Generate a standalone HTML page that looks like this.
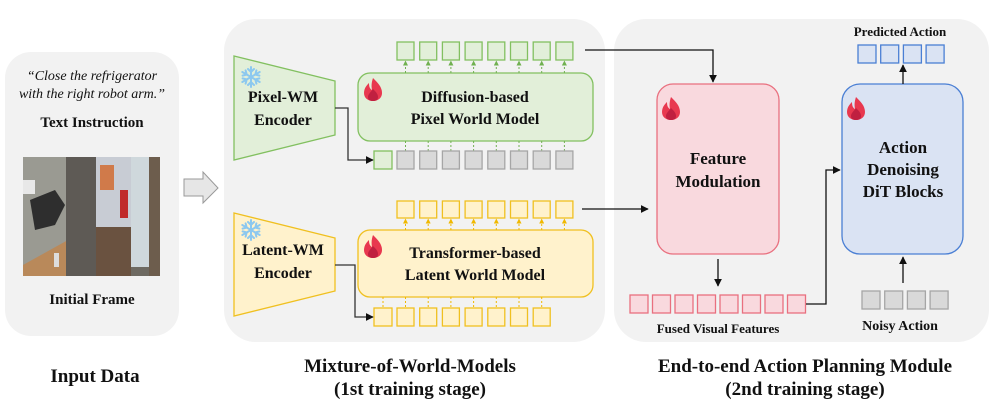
<!DOCTYPE html>
<html><head><meta charset="utf-8"><style>
html,body{margin:0;padding:0;background:#fff;}
svg{display:block;}
text{font-family:"Liberation Serif",serif;font-weight:bold;fill:#111;}
</style></head><body>
<svg width="997" height="412" viewBox="0 0 997 412" xmlns="http://www.w3.org/2000/svg">
<defs>
<marker id="ah" viewBox="0 0 10 10" refX="9" refY="5" markerWidth="6" markerHeight="6" orient="auto"><path d="M0,0 L10,5 L0,10 z" fill="#111"/></marker>
<marker id="ag" viewBox="0 0 10 10" refX="9" refY="5" markerWidth="5" markerHeight="5" orient="auto"><path d="M0,0 L10,5 L0,10 z" fill="#70b050"/></marker>
<marker id="ay" viewBox="0 0 10 10" refX="9" refY="5" markerWidth="5" markerHeight="5" orient="auto"><path d="M0,0 L10,5 L0,10 z" fill="#f0b800"/></marker>
<g id="snow" stroke="#8cc8ef" stroke-width="2" stroke-linecap="round" fill="none">
<line x1="0" y1="-10" x2="0" y2="10"/><line x1="-8.7" y1="-5" x2="8.7" y2="5"/><line x1="-8.7" y1="5" x2="8.7" y2="-5"/>
<path d="M-3,-8 L0,-5 L3,-8 M-3,8 L0,5 L3,8"/>
<path d="M-8.4,-1.4 L-4.3,-2.5 L-5.4,-6.6 M8.4,1.4 L4.3,2.5 L5.4,6.6"/>
<path d="M-8.4,1.4 L-4.3,2.5 L-5.4,6.6 M8.4,-1.4 L4.3,-2.5 L5.4,-6.6"/>
</g>
<g id="fire">
<path d="M0,-11 C5,-6 9,-2 9,4 C9,9 5,12 0,12 C-5,12 -9,9 -9,4 C-9,-1 -6,-4 -4,-6 C-4,-2 -3,0 -1,1 C-2,-4 -1,-8 0,-11 z" fill="#e8384f"/>
<path d="M0,0 C3,3 5,5 5,8 C5,11 3,12 0,12 C-3,12 -5,11 -5,8 C-5,5 -2,3 0,0 z" fill="#c02040"/>
</g>
</defs>

<!-- panels -->
<rect x="5" y="52" width="174" height="284" rx="26" fill="#f2f2f2"/>
<rect x="224" y="19" width="381" height="323" rx="32" fill="#f2f2f2"/>
<rect x="614" y="19" width="375" height="323" rx="32" fill="#f2f2f2"/>

<!-- left panel -->
<text x="92" y="80" font-size="14" text-anchor="middle" style="font-weight:normal;font-style:italic">“Close the refrigerator</text>
<text x="92" y="98" font-size="14" text-anchor="middle" style="font-weight:normal;font-style:italic">with the right robot arm.”</text>
<text x="92" y="127" font-size="15" text-anchor="middle">Text Instruction</text>
<rect x="23" y="157" width="137" height="119" fill="#6e6a62"/>
<rect x="23" y="157" width="45" height="119" fill="#9a9a92"/>
<polygon points="23,265 23,276 68,276 68,240" fill="#b9895a"/>
<rect x="66" y="157" width="30" height="119" fill="#5e5a55"/>
<rect x="96" y="157" width="35" height="70" fill="#c8ccd4"/>
<rect x="96" y="227" width="35" height="49" fill="#6a5240"/>
<rect x="131" y="157" width="18" height="110" fill="#cfd8dc"/>
<rect x="149" y="157" width="11" height="119" fill="#6d5d4d"/>
<rect x="120" y="190" width="8" height="28" fill="#c02a2a"/>
<rect x="100" y="165" width="14" height="25" fill="#d07a4a"/>
<path d="M30,200 L55,190 L65,205 L55,225 L35,230 z" fill="#2e2e2e"/>
<rect x="23" y="180" width="12" height="14" fill="#e8e8e8"/>
<rect x="54" y="253" width="5" height="14" fill="#ddd"/>
<text x="92" y="304" font-size="15" text-anchor="middle">Initial Frame</text>

<!-- big arrow -->
<polygon points="184,179 203,179 203,172 218,188 203,203 203,196 184,196" fill="#e6e6e6" stroke="#999" stroke-width="1"/>

<!-- pixel encoder -->
<polygon points="234,56 335,81 335,135 234,160" fill="#e2efd9" stroke="#82c060" stroke-width="1.3"/>
<use href="#snow" x="251" y="77"/>
<text x="283" y="102" font-size="16" text-anchor="middle">Pixel-WM</text>
<text x="283" y="125" font-size="16" text-anchor="middle">Encoder</text>
<rect x="358" y="73" width="235" height="68" rx="12" fill="#e2efd9" stroke="#82c060" stroke-width="1.3"/>
<use href="#fire" x="373" y="89"/>
<text x="475" y="102" font-size="16" text-anchor="middle">Diffusion-based</text>
<text x="475" y="124" font-size="16" text-anchor="middle">Pixel World Model</text>
<g fill="#e2efd9" stroke="#82c060" stroke-width="1.3">
<rect x="397" y="42" width="17" height="18"/><rect x="419.7" y="42" width="17" height="18"/><rect x="442.4" y="42" width="17" height="18"/><rect x="465.1" y="42" width="17" height="18"/><rect x="487.8" y="42" width="17" height="18"/><rect x="510.5" y="42" width="17" height="18"/><rect x="533.2" y="42" width="17" height="18"/><rect x="555.9" y="42" width="17" height="18"/>
<rect x="374" y="151" width="18" height="18"/>
</g>
<g stroke="#70b050" stroke-width="1" stroke-dasharray="2,2" marker-end="url(#ag)">
<line x1="405.5" y1="73" x2="405.5" y2="61"/><line x1="428.2" y1="73" x2="428.2" y2="61"/><line x1="450.9" y1="73" x2="450.9" y2="61"/><line x1="473.6" y1="73" x2="473.6" y2="61"/><line x1="496.3" y1="73" x2="496.3" y2="61"/><line x1="519" y1="73" x2="519" y2="61"/><line x1="541.7" y1="73" x2="541.7" y2="61"/><line x1="564.4" y1="73" x2="564.4" y2="61"/>
</g>
<g stroke="#70b050" stroke-width="1" stroke-dasharray="2,2">
<line x1="405.5" y1="141" x2="405.5" y2="151"/><line x1="428.2" y1="141" x2="428.2" y2="151"/><line x1="450.9" y1="141" x2="450.9" y2="151"/><line x1="473.6" y1="141" x2="473.6" y2="151"/><line x1="496.3" y1="141" x2="496.3" y2="151"/><line x1="519" y1="141" x2="519" y2="151"/><line x1="541.7" y1="141" x2="541.7" y2="151"/><line x1="564.4" y1="141" x2="564.4" y2="151"/>
</g>
<g fill="#d9d9d9" stroke="#a6a6a6" stroke-width="1.3">
<rect x="397" y="151" width="17" height="18"/><rect x="419.7" y="151" width="17" height="18"/><rect x="442.4" y="151" width="17" height="18"/><rect x="465.1" y="151" width="17" height="18"/><rect x="487.8" y="151" width="17" height="18"/><rect x="510.5" y="151" width="17" height="18"/><rect x="533.2" y="151" width="17" height="18"/><rect x="555.9" y="151" width="17" height="18"/>
</g>
<path d="M335,108 L348,108 L348,160 L373,160" fill="none" stroke="#333" stroke-width="1.3" marker-end="url(#ah)"/>

<!-- latent encoder -->
<polygon points="234,213 335,238 335,291 234,316" fill="#fff2cc" stroke="#f0c020" stroke-width="1.3"/>
<use href="#snow" x="251" y="230"/>
<text x="283" y="255" font-size="16" text-anchor="middle">Latent-WM</text>
<text x="283" y="278" font-size="16" text-anchor="middle">Encoder</text>
<rect x="358" y="230" width="235" height="67" rx="12" fill="#fff2cc" stroke="#f0c020" stroke-width="1.3"/>
<use href="#fire" x="373" y="246"/>
<text x="475" y="258" font-size="16" text-anchor="middle">Transformer-based</text>
<text x="475" y="280" font-size="16" text-anchor="middle">Latent World Model</text>
<g fill="#fff2cc" stroke="#f0c020" stroke-width="1.3">
<rect x="397" y="201" width="17" height="17"/><rect x="419.7" y="201" width="17" height="17"/><rect x="442.4" y="201" width="17" height="17"/><rect x="465.1" y="201" width="17" height="17"/><rect x="487.8" y="201" width="17" height="17"/><rect x="510.5" y="201" width="17" height="17"/><rect x="533.2" y="201" width="17" height="17"/><rect x="555.9" y="201" width="17" height="17"/>
<rect x="374" y="308" width="18" height="18"/><rect x="397" y="308" width="17" height="18"/><rect x="419.7" y="308" width="17" height="18"/><rect x="442.4" y="308" width="17" height="18"/><rect x="465.1" y="308" width="17" height="18"/><rect x="487.8" y="308" width="17" height="18"/><rect x="510.5" y="308" width="17" height="18"/><rect x="533.2" y="308" width="17" height="18"/>
</g>
<g stroke="#f0b800" stroke-width="1" stroke-dasharray="2,2" marker-end="url(#ay)">
<line x1="405.5" y1="230" x2="405.5" y2="219"/><line x1="428.2" y1="230" x2="428.2" y2="219"/><line x1="450.9" y1="230" x2="450.9" y2="219"/><line x1="473.6" y1="230" x2="473.6" y2="219"/><line x1="496.3" y1="230" x2="496.3" y2="219"/><line x1="519" y1="230" x2="519" y2="219"/><line x1="541.7" y1="230" x2="541.7" y2="219"/><line x1="564.4" y1="230" x2="564.4" y2="219"/>
</g>
<g stroke="#f0b800" stroke-width="1" stroke-dasharray="2,2">
<line x1="383" y1="297" x2="383" y2="308"/><line x1="405.5" y1="297" x2="405.5" y2="308"/><line x1="428.2" y1="297" x2="428.2" y2="308"/><line x1="450.9" y1="297" x2="450.9" y2="308"/><line x1="473.6" y1="297" x2="473.6" y2="308"/><line x1="496.3" y1="297" x2="496.3" y2="308"/><line x1="519" y1="297" x2="519" y2="308"/><line x1="541.7" y1="297" x2="541.7" y2="308"/>
</g>
<path d="M335,265 L355,265 L355,317 L373,317" fill="none" stroke="#333" stroke-width="1.3" marker-end="url(#ah)"/>

<!-- connectors to feature modulation -->
<path d="M585,50 L713,50 L713,82" fill="none" stroke="#111" stroke-width="1.3" marker-end="url(#ah)"/>
<path d="M582,209 L648,209" fill="none" stroke="#111" stroke-width="1.3" marker-end="url(#ah)"/>

<!-- feature modulation -->
<rect x="657" y="84" width="122" height="170" rx="16" fill="#f9d9de" stroke="#e9707f" stroke-width="1.3"/>
<use href="#fire" x="671" y="108"/>
<text x="718" y="164" font-size="17" text-anchor="middle">Feature</text>
<text x="718" y="187" font-size="17" text-anchor="middle">Modulation</text>
<path d="M718,259 L718,286" stroke="#111" stroke-width="1.3" marker-end="url(#ah)"/>
<g fill="#f9d9de" stroke="#e9707f" stroke-width="1.3">
<rect x="630" y="295" width="18" height="18"/><rect x="652.5" y="295" width="18" height="18"/><rect x="675" y="295" width="18" height="18"/><rect x="697.5" y="295" width="18" height="18"/><rect x="720" y="295" width="18" height="18"/><rect x="742.5" y="295" width="18" height="18"/><rect x="765" y="295" width="18" height="18"/><rect x="787.5" y="295" width="18" height="18"/>
</g>
<text x="718" y="333" font-size="13" text-anchor="middle">Fused Visual Features</text>
<path d="M806,304 L826,304 L826,170 L840,170" fill="none" stroke="#111" stroke-width="1.3" marker-end="url(#ah)"/>

<!-- DiT -->
<rect x="842" y="84" width="121" height="170" rx="18" fill="#dae3f3" stroke="#4a7fd4" stroke-width="1.3"/>
<use href="#fire" x="856" y="108"/>
<text x="903" y="153" font-size="17" text-anchor="middle">Action</text>
<text x="903" y="175" font-size="17" text-anchor="middle">Denoising</text>
<text x="903" y="197" font-size="17" text-anchor="middle">DiT Blocks</text>
<path d="M903,84 L903,65" stroke="#111" stroke-width="1.3" marker-end="url(#ah)"/>
<g fill="#dae3f3" stroke="#4a7fd4" stroke-width="1.3">
<rect x="858" y="45" width="18" height="18"/><rect x="880.7" y="45" width="18" height="18"/><rect x="903.4" y="45" width="18" height="18"/><rect x="926.1" y="45" width="18" height="18"/>
</g>
<text x="900" y="36" font-size="13" text-anchor="middle">Predicted Action</text>
<path d="M903,283 L903,257" stroke="#111" stroke-width="1.3" marker-end="url(#ah)"/>
<g fill="#d9d9d9" stroke="#a6a6a6" stroke-width="1.3">
<rect x="862" y="291" width="18" height="18"/><rect x="884.7" y="291" width="18" height="18"/><rect x="907.4" y="291" width="18" height="18"/><rect x="930.1" y="291" width="18" height="18"/>
</g>
<text x="900" y="330" font-size="14" text-anchor="middle">Noisy Action</text>

<!-- bottom labels -->
<text x="95" y="382" font-size="19" text-anchor="middle">Input Data</text>
<text x="410" y="372" font-size="19" text-anchor="middle">Mixture-of-World-Models</text>
<text x="410" y="395" font-size="19" text-anchor="middle">(1st training stage)</text>
<text x="805" y="372" font-size="19" text-anchor="middle">End-to-end Action Planning Module</text>
<text x="805" y="395" font-size="19" text-anchor="middle">(2nd training stage)</text>
</svg>
</body></html>
